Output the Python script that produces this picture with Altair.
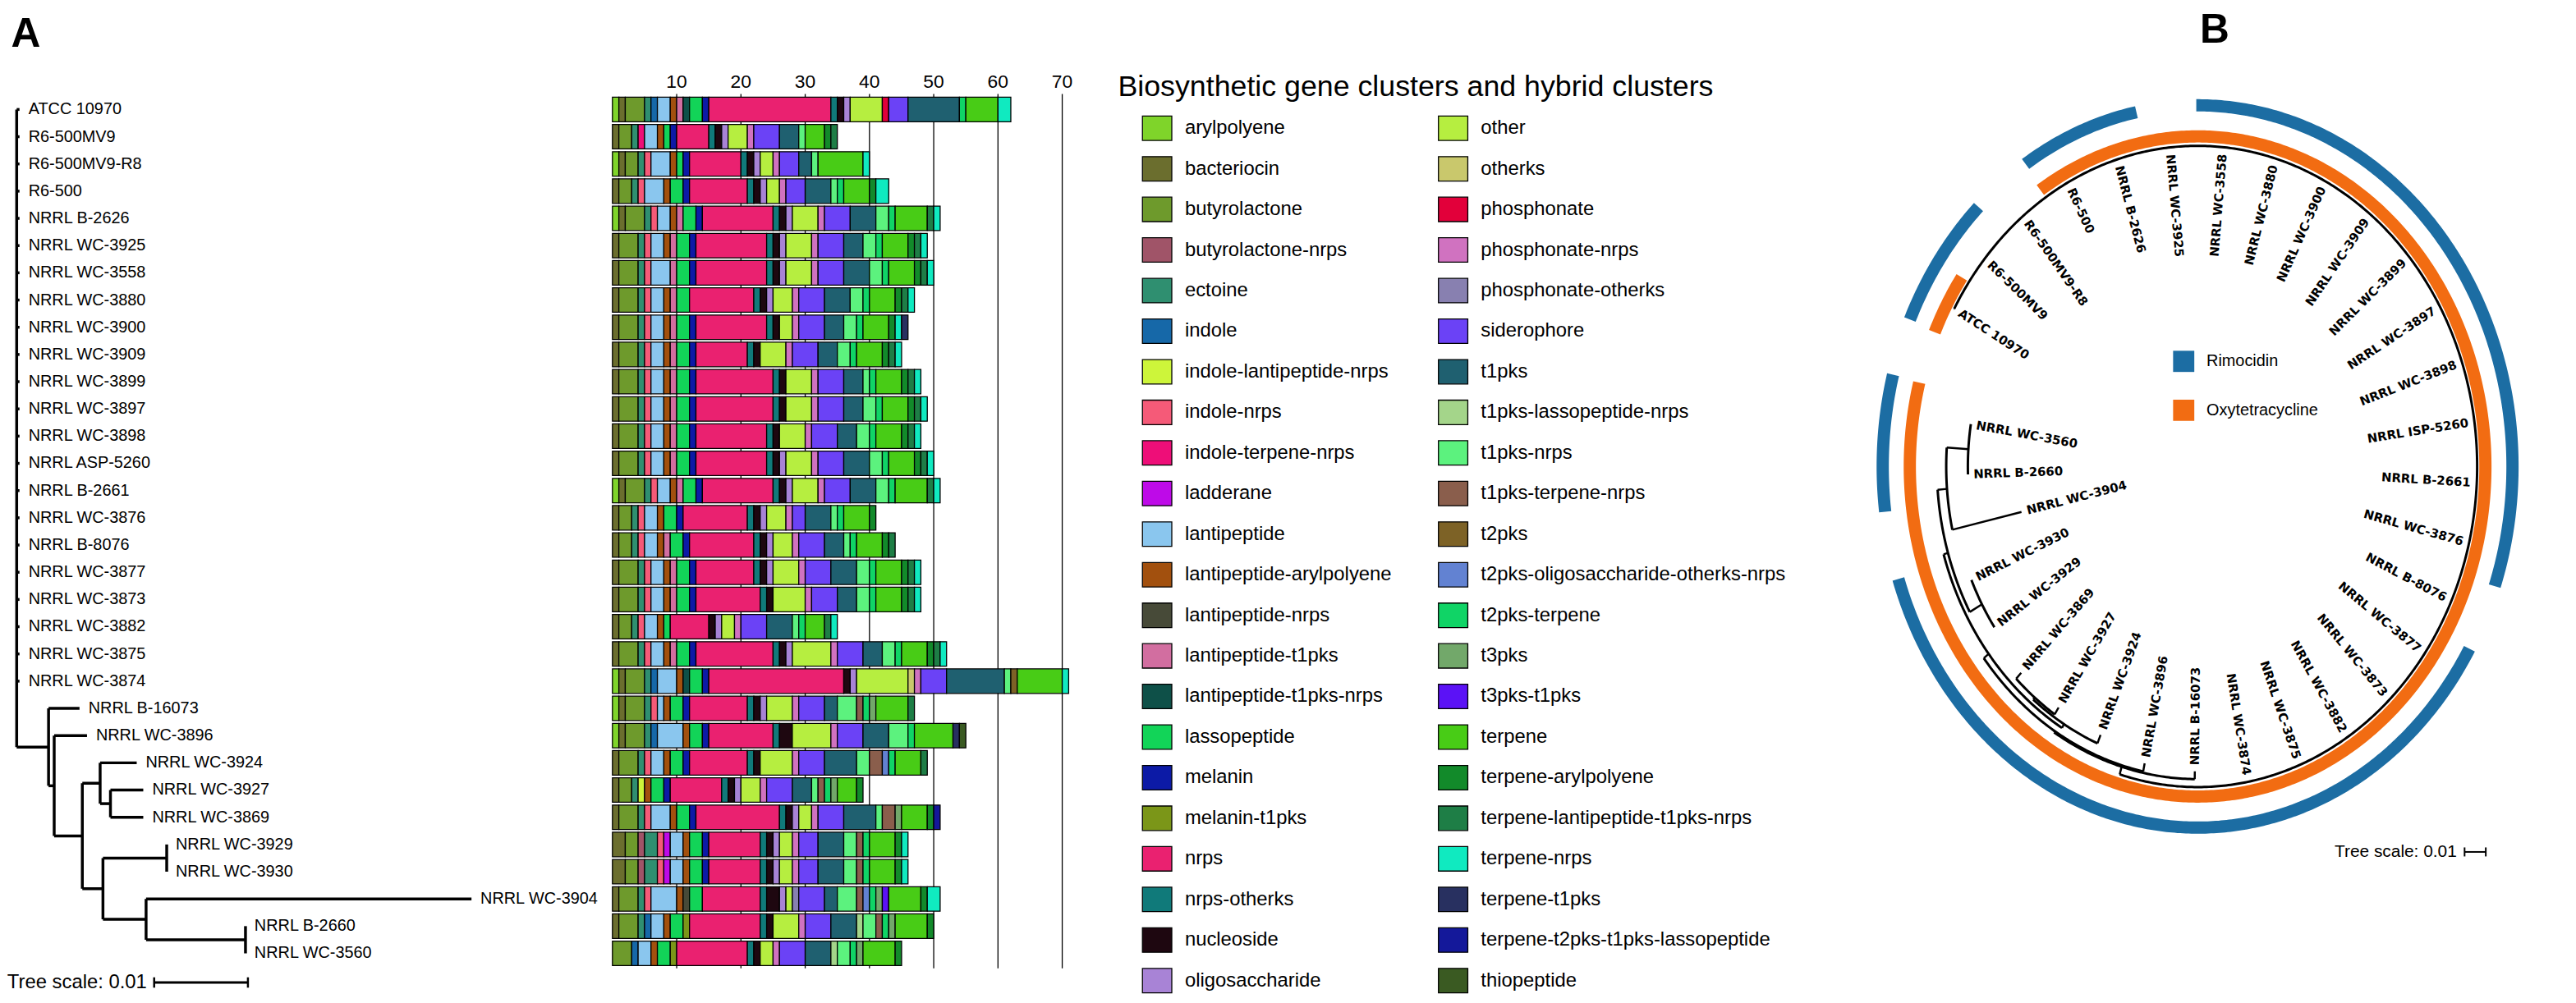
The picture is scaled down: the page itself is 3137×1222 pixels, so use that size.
import math
import numpy as np
import pandas as pd
import altair as alt

FONT = "Liberation Sans"

# ---------------- data ----------------
strains = ["ATCC 10970", "R6-500MV9", "R6-500MV9-R8", "R6-500", "NRRL B-2626",
           "NRRL WC-3925", "NRRL WC-3558", "NRRL WC-3880", "NRRL WC-3900", "NRRL WC-3909",
           "NRRL WC-3899", "NRRL WC-3897", "NRRL WC-3898", "NRRL ASP-5260", "NRRL B-2661",
           "NRRL WC-3876", "NRRL B-8076", "NRRL WC-3877", "NRRL WC-3873", "NRRL WC-3882",
           "NRRL WC-3875", "NRRL WC-3874", "NRRL B-16073", "NRRL WC-3896", "NRRL WC-3924",
           "NRRL WC-3927", "NRRL WC-3869", "NRRL WC-3929", "NRRL WC-3930", "NRRL WC-3904",
           "NRRL B-2660", "NRRL WC-3560"]
strains_b = [s if s != "NRRL ASP-5260" else "NRRL ISP-5260" for s in strains]

cats_left = ["arylpolyene", "bacteriocin", "butyrolactone", "butyrolactone-nrps", "ectoine", "indole",
             "indole-lantipeptide-nrps", "indole-nrps", "indole-terpene-nrps", "ladderane", "lantipeptide",
             "lantipeptide-arylpolyene", "lantipeptide-nrps", "lantipeptide-t1pks", "lantipeptide-t1pks-nrps",
             "lassopeptide", "melanin", "melanin-t1pks", "nrps", "nrps-otherks", "nucleoside", "oligosaccharide"]
cats_right = ["other", "otherks", "phosphonate", "phosphonate-nrps", "phosphonate-otherks", "siderophore",
              "t1pks", "t1pks-lassopeptide-nrps", "t1pks-nrps", "t1pks-terpene-nrps", "t2pks",
              "t2pks-oligosaccharide-otherks-nrps", "t2pks-terpene", "t3pks", "t3pks-t1pks", "terpene",
              "terpene-arylpolyene", "terpene-lantipeptide-t1pks-nrps", "terpene-nrps", "terpene-t1pks",
              "terpene-t2pks-t1pks-lassopeptide", "thiopeptide"]
colors_left = ["#7FD42A", "#6B6E2E", "#6E9A2C", "#A05468", "#2F8F70", "#1668A8", "#CDF53A", "#F55A78",
               "#EE0E78", "#BE0AE8", "#8AC6EE", "#A2500E", "#474A38", "#D26EA0", "#0E5048", "#12D458",
               "#0C1AA6", "#7B9618", "#EA2170", "#107A7A", "#1E0710", "#A883D6"]
colors_right = ["#B6EE40", "#C9C86C", "#E2003A", "#D072C0", "#8880B0", "#6B42F6", "#1F6070", "#A4D58A",
                "#5CF27E", "#8A5E4C", "#7D6226", "#6282D2", "#10D466", "#72A86A", "#5B12F6", "#48CC16",
                "#128A2A", "#1E7E46", "#10EAC0", "#283060", "#14189A", "#3A5A22"]
legend_title = "Biosynthetic gene clusters and hybrid clusters"

H13 = {"bacteriocin": 1, "butyrolactone": 3, "ectoine": 1, "indole-nrps": 1, "lantipeptide": 2,
       "lantipeptide-arylpolyene": 1, "lantipeptide-t1pks": 1, "lassopeptide": 2, "melanin": 1}

bgc_counts = [
    {"arylpolyene": 1, "bacteriocin": 1, "butyrolactone": 3, "ectoine": 1, "indole": 1, "lantipeptide": 2,
     "lantipeptide-arylpolyene": 1, "lantipeptide-t1pks": 1, "lantipeptide-t1pks-nrps": 1, "lassopeptide": 2,
     "melanin": 1, "nrps": 19, "nrps-otherks": 1, "nucleoside": 1, "oligosaccharide": 1, "other": 5,
     "phosphonate": 1, "siderophore": 3, "t1pks": 8, "t2pks-terpene": 1, "terpene": 5, "terpene-nrps": 2},
    {"bacteriocin": 1, "butyrolactone": 2, "ectoine": 1, "indole-terpene-nrps": 1, "lantipeptide": 2,
     "lantipeptide-arylpolyene": 1, "lassopeptide": 1, "melanin": 1, "nrps": 5, "nrps-otherks": 1, "nucleoside": 1,
     "oligosaccharide": 1, "other": 3, "phosphonate-nrps": 1, "siderophore": 4, "t1pks": 3, "t1pks-nrps": 1,
     "terpene": 3, "terpene-arylpolyene": 1, "terpene-lantipeptide-t1pks-nrps": 1},
    {"arylpolyene": 1, "bacteriocin": 1, "butyrolactone": 2, "ectoine": 1, "indole-nrps": 1, "lantipeptide": 3,
     "lantipeptide-arylpolyene": 1, "lassopeptide": 1, "melanin": 1, "nrps": 8, "nrps-otherks": 1, "nucleoside": 1,
     "oligosaccharide": 1, "other": 2, "phosphonate-nrps": 1, "siderophore": 3, "t1pks": 2, "t1pks-nrps": 1,
     "terpene": 7, "terpene-nrps": 1},
    {"bacteriocin": 1, "butyrolactone": 2, "ectoine": 1, "indole-nrps": 1, "lantipeptide": 3,
     "lantipeptide-arylpolyene": 1, "lassopeptide": 2, "melanin": 1, "nrps": 9, "nrps-otherks": 1, "nucleoside": 1,
     "oligosaccharide": 1, "other": 2, "phosphonate-nrps": 1, "siderophore": 3, "t1pks": 4, "t1pks-nrps": 1,
     "t2pks-terpene": 1, "terpene": 4, "terpene-arylpolyene": 1, "terpene-nrps": 2},
    {"arylpolyene": 1, **H13, "nrps": 11, "nrps-otherks": 1, "nucleoside": 1, "oligosaccharide": 1, "other": 4,
     "phosphonate-nrps": 1, "siderophore": 4, "t1pks": 4, "t1pks-nrps": 2, "t2pks-terpene": 1, "terpene": 5,
     "terpene-lantipeptide-t1pks-nrps": 1, "terpene-nrps": 1},
    {**H13, "nrps": 11, "nrps-otherks": 1, "nucleoside": 1, "oligosaccharide": 1, "other": 4, "phosphonate-nrps": 1,
     "siderophore": 4, "t1pks": 3, "t1pks-nrps": 2, "t2pks-terpene": 1, "terpene": 4, "terpene-arylpolyene": 1,
     "terpene-lantipeptide-t1pks-nrps": 1, "terpene-nrps": 1},
    {"bacteriocin": 1, "butyrolactone": 3, "ectoine": 1, "indole-nrps": 1, "lantipeptide": 3, "lantipeptide-t1pks": 1,
     "lassopeptide": 2, "melanin": 1, "nrps": 11, "nrps-otherks": 1, "nucleoside": 1, "oligosaccharide": 1,
     "other": 4, "phosphonate-nrps": 1, "siderophore": 4, "t1pks": 4, "t1pks-nrps": 2, "t2pks-terpene": 1,
     "terpene": 4, "terpene-arylpolyene": 1, "terpene-lantipeptide-t1pks-nrps": 1, "terpene-nrps": 1},
    {"bacteriocin": 1, "butyrolactone": 3, "ectoine": 1, "indole-nrps": 1, "lantipeptide": 2,
     "lantipeptide-arylpolyene": 1, "lantipeptide-t1pks": 1, "lassopeptide": 2, "nrps": 10, "nrps-otherks": 1,
     "nucleoside": 1, "oligosaccharide": 1, "other": 3, "phosphonate-nrps": 1, "siderophore": 4, "t1pks": 4,
     "t1pks-nrps": 2, "t2pks-terpene": 1, "terpene": 4, "terpene-arylpolyene": 1,
     "terpene-lantipeptide-t1pks-nrps": 1, "terpene-nrps": 1},
    {**H13, "nrps": 11, "nrps-otherks": 1, "nucleoside": 1, "other": 2, "phosphonate-nrps": 1, "siderophore": 4,
     "t1pks": 3, "t1pks-nrps": 2, "t2pks-terpene": 1, "terpene": 4, "terpene-arylpolyene": 1, "terpene-nrps": 1,
     "terpene-t1pks": 1},
    {**H13, "nrps": 8, "nrps-otherks": 1, "nucleoside": 1, "other": 4, "phosphonate-nrps": 1, "siderophore": 4,
     "t1pks": 3, "t1pks-nrps": 2, "t2pks-terpene": 1, "terpene": 4, "terpene-arylpolyene": 1,
     "terpene-lantipeptide-t1pks-nrps": 1, "terpene-nrps": 1},
    {**H13, "nrps": 12, "nrps-otherks": 1, "nucleoside": 1, "other": 4, "phosphonate-nrps": 1, "siderophore": 4,
     "t1pks": 3, "t1pks-nrps": 1, "t2pks-terpene": 1, "terpene": 4, "terpene-arylpolyene": 1,
     "terpene-lantipeptide-t1pks-nrps": 1, "terpene-nrps": 1},
    {**H13, "nrps": 12, "nrps-otherks": 1, "nucleoside": 1, "other": 4, "phosphonate-nrps": 1, "siderophore": 4,
     "t1pks": 3, "t1pks-nrps": 2, "t2pks-terpene": 1, "terpene": 4, "terpene-arylpolyene": 1,
     "terpene-lantipeptide-t1pks-nrps": 1, "terpene-nrps": 1},
    {**H13, "nrps": 11, "nrps-otherks": 1, "nucleoside": 1, "other": 4, "phosphonate-nrps": 1, "siderophore": 4,
     "t1pks": 3, "t1pks-nrps": 2, "t2pks-terpene": 1, "terpene": 4, "terpene-arylpolyene": 1,
     "terpene-lantipeptide-t1pks-nrps": 1, "terpene-nrps": 1},
    {**H13, "nrps": 11, "nrps-otherks": 1, "nucleoside": 1, "oligosaccharide": 1, "other": 4, "phosphonate-nrps": 1,
     "siderophore": 4, "t1pks": 4, "t1pks-nrps": 2, "t2pks-terpene": 1, "terpene": 4, "terpene-arylpolyene": 1,
     "terpene-lantipeptide-t1pks-nrps": 1, "terpene-nrps": 1},
    {"arylpolyene": 1, **H13, "nrps": 11, "nrps-otherks": 1, "nucleoside": 1, "oligosaccharide": 1, "other": 4,
     "phosphonate-nrps": 1, "siderophore": 4, "t1pks": 4, "t1pks-nrps": 2, "t2pks-terpene": 1, "terpene": 5,
     "terpene-lantipeptide-t1pks-nrps": 1, "terpene-nrps": 1},
    {"bacteriocin": 1, "butyrolactone": 2, "ectoine": 1, "indole-nrps": 1, "lantipeptide": 2,
     "lantipeptide-arylpolyene": 1, "lassopeptide": 2, "melanin": 1, "nrps": 10, "nrps-otherks": 1, "nucleoside": 1,
     "oligosaccharide": 1, "other": 3, "phosphonate-nrps": 1, "siderophore": 2, "t1pks": 4, "t1pks-nrps": 1,
     "t2pks-terpene": 1, "terpene": 4, "terpene-arylpolyene": 1},
    {"bacteriocin": 1, "butyrolactone": 2, "ectoine": 1, "indole-nrps": 1, "lantipeptide": 2,
     "lantipeptide-arylpolyene": 1, "lantipeptide-t1pks": 1, "lassopeptide": 2, "melanin": 1, "nrps": 10,
     "nrps-otherks": 1, "nucleoside": 1, "oligosaccharide": 1, "other": 3, "phosphonate-nrps": 1, "siderophore": 4,
     "t1pks": 3, "t1pks-nrps": 1, "t2pks-terpene": 1, "terpene": 4, "terpene-arylpolyene": 1,
     "terpene-lantipeptide-t1pks-nrps": 1},
    {**H13, "nrps": 9, "nrps-otherks": 1, "nucleoside": 1, "oligosaccharide": 1, "other": 4, "phosphonate-nrps": 1,
     "siderophore": 4, "t1pks": 4, "t1pks-nrps": 2, "t2pks-terpene": 1, "terpene": 4, "terpene-arylpolyene": 1,
     "terpene-lantipeptide-t1pks-nrps": 1, "terpene-nrps": 1},
    {**H13, "nrps": 10, "nrps-otherks": 1, "nucleoside": 1, "other": 5, "phosphonate-nrps": 1, "siderophore": 4,
     "t1pks": 3, "t1pks-nrps": 2, "t2pks-terpene": 1, "terpene": 4, "terpene-arylpolyene": 1,
     "terpene-lantipeptide-t1pks-nrps": 1, "terpene-nrps": 1},
    {"bacteriocin": 1, "butyrolactone": 2, "ectoine": 1, "indole-nrps": 1, "lantipeptide": 2,
     "lantipeptide-arylpolyene": 1, "lassopeptide": 1, "nrps": 6, "nucleoside": 1, "oligosaccharide": 1,
     "other": 2, "phosphonate-nrps": 1, "siderophore": 4, "t1pks": 4, "t1pks-nrps": 1, "t2pks-terpene": 1,
     "terpene": 3, "terpene-lantipeptide-t1pks-nrps": 1, "terpene-nrps": 1},
    {**H13, "nrps": 12, "nrps-otherks": 1, "nucleoside": 1, "oligosaccharide": 1, "other": 6, "phosphonate-nrps": 1,
     "siderophore": 4, "t1pks": 3, "t1pks-nrps": 2, "t2pks-terpene": 1, "terpene": 4, "terpene-arylpolyene": 1,
     "terpene-lantipeptide-t1pks-nrps": 1, "terpene-nrps": 1},
    {"arylpolyene": 1, "bacteriocin": 1, "butyrolactone": 3, "ectoine": 1, "indole": 1, "lantipeptide": 3,
     "lantipeptide-arylpolyene": 1, "lantipeptide-t1pks-nrps": 1, "lassopeptide": 2, "melanin": 1, "nrps": 21,
     "nucleoside": 1, "oligosaccharide": 1, "other": 8, "otherks": 1, "phosphonate-nrps": 1, "siderophore": 4,
     "t1pks": 9, "t1pks-nrps": 1, "t2pks": 1, "terpene": 7, "terpene-nrps": 1},
    {"arylpolyene": 1, "bacteriocin": 1, "butyrolactone": 3, "ectoine": 1, "indole-nrps": 1, "lantipeptide": 1,
     "lantipeptide-arylpolyene": 1, "lassopeptide": 2, "melanin": 1, "nrps": 9, "nrps-otherks": 1, "nucleoside": 1,
     "oligosaccharide": 1, "other": 4, "phosphonate-nrps": 1, "siderophore": 4, "t1pks": 2, "t1pks-nrps": 3,
     "t1pks-terpene-nrps": 1, "t2pks-terpene": 1, "t3pks": 1, "terpene": 5, "terpene-lantipeptide-t1pks-nrps": 1},
    {"arylpolyene": 1, "bacteriocin": 1, "butyrolactone": 3, "ectoine": 1, "indole": 1, "lantipeptide": 4,
     "lantipeptide-arylpolyene": 1, "lassopeptide": 2, "melanin": 1, "nrps": 10, "nrps-otherks": 1, "nucleoside": 2,
     "other": 6, "phosphonate-nrps": 1, "siderophore": 4, "t1pks": 4, "t1pks-nrps": 3, "t2pks-terpene": 1,
     "terpene": 6, "terpene-t1pks": 1, "thiopeptide": 1},
    {"bacteriocin": 1, "butyrolactone": 3, "ectoine": 1, "indole-nrps": 1, "lantipeptide": 2,
     "lantipeptide-arylpolyene": 1, "lassopeptide": 2, "melanin": 1, "nrps": 9, "nrps-otherks": 1, "nucleoside": 1,
     "other": 5, "phosphonate-nrps": 1, "siderophore": 4, "t1pks": 5, "t1pks-nrps": 2, "t1pks-terpene-nrps": 2,
     "t2pks-oligosaccharide-otherks-nrps": 1, "t2pks-terpene": 1, "terpene": 4, "terpene-lantipeptide-t1pks-nrps": 1},
    {"bacteriocin": 1, "butyrolactone": 2, "ectoine": 1, "indole-lantipeptide-nrps": 1, "lantipeptide-arylpolyene": 1,
     "lassopeptide": 2, "melanin": 1, "nrps": 8, "nrps-otherks": 1, "nucleoside": 1, "oligosaccharide": 1,
     "other": 3, "phosphonate-nrps": 1, "siderophore": 4, "t1pks": 3, "t1pks-nrps": 1, "t1pks-terpene-nrps": 1,
     "t2pks-terpene": 1, "t3pks": 1, "terpene": 3, "terpene-arylpolyene": 1},
    {"bacteriocin": 1, "butyrolactone": 3, "ectoine": 1, "indole-nrps": 1, "lantipeptide": 3,
     "lantipeptide-arylpolyene": 1, "lassopeptide": 2, "melanin": 1, "nrps": 13, "nrps-otherks": 1, "nucleoside": 1,
     "oligosaccharide": 1, "other": 2, "phosphonate-nrps": 1, "siderophore": 4, "t1pks": 5, "t1pks-nrps": 1,
     "t1pks-terpene-nrps": 2, "t3pks": 1, "terpene": 4, "terpene-arylpolyene": 1,
     "terpene-t2pks-t1pks-lassopeptide": 1},
    {"bacteriocin": 2, "butyrolactone": 2, "butyrolactone-nrps": 1, "ectoine": 2, "indole-nrps": 1, "ladderane": 1,
     "lantipeptide": 2, "lantipeptide-arylpolyene": 1, "lassopeptide": 2, "melanin": 1, "nrps": 8, "nrps-otherks": 1,
     "nucleoside": 1, "oligosaccharide": 1, "other": 2, "phosphonate-nrps": 1, "siderophore": 3, "t1pks": 4,
     "t1pks-nrps": 2, "t1pks-terpene-nrps": 1, "t2pks-terpene": 1, "terpene": 4, "terpene-arylpolyene": 1,
     "terpene-nrps": 1},
    {"bacteriocin": 2, "butyrolactone": 2, "butyrolactone-nrps": 1, "ectoine": 2, "indole-nrps": 1, "ladderane": 1,
     "lantipeptide": 2, "lantipeptide-arylpolyene": 1, "lassopeptide": 2, "melanin": 1, "nrps": 8, "nrps-otherks": 1,
     "nucleoside": 1, "oligosaccharide": 1, "other": 2, "phosphonate-nrps": 1, "siderophore": 3, "t1pks": 4,
     "t1pks-nrps": 2, "t1pks-terpene-nrps": 1, "t2pks-terpene": 1, "terpene": 4, "terpene-arylpolyene": 1,
     "terpene-nrps": 1},
    {"bacteriocin": 1, "butyrolactone": 3, "ectoine": 1, "indole-nrps": 1, "lantipeptide": 4,
     "lantipeptide-arylpolyene": 1, "lantipeptide-nrps": 1, "lassopeptide": 2, "nrps": 9, "nrps-otherks": 1,
     "nucleoside": 2, "oligosaccharide": 1, "other": 1, "phosphonate-otherks": 1, "siderophore": 4, "t1pks": 2,
     "t1pks-nrps": 3, "t1pks-terpene-nrps": 1, "t2pks-oligosaccharide-otherks-nrps": 1, "t2pks-terpene": 1,
     "t3pks": 1, "t3pks-t1pks": 1, "terpene": 5, "terpene-arylpolyene": 1, "terpene-nrps": 2},
    {"bacteriocin": 1, "butyrolactone": 3, "ectoine": 1, "indole": 1, "lantipeptide": 2,
     "lantipeptide-arylpolyene": 1, "lassopeptide": 2, "melanin-t1pks": 1, "nrps": 11, "nrps-otherks": 1,
     "nucleoside": 1, "other": 4, "phosphonate-nrps": 1, "siderophore": 4, "t1pks": 4, "t1pks-lassopeptide-nrps": 1,
     "t1pks-nrps": 2, "t1pks-terpene-nrps": 1, "t2pks-terpene": 1, "t3pks": 1, "terpene": 5,
     "terpene-arylpolyene": 1},
    {"butyrolactone": 3, "indole": 1, "lantipeptide": 2, "lantipeptide-arylpolyene": 1, "lassopeptide": 2,
     "melanin-t1pks": 1, "nrps": 11, "nrps-otherks": 1, "nucleoside": 1, "other": 2, "phosphonate-nrps": 1,
     "siderophore": 4, "t1pks": 4, "t1pks-lassopeptide-nrps": 1, "t1pks-nrps": 2, "t2pks-terpene": 1, "t3pks": 1,
     "terpene": 5, "terpene-arylpolyene": 1},
]

bar_ticks = [10, 20, 30, 40, 50, 60, 70]

# phylogeny: (node, parent, branch depth from root)
tree_nodes = ([("root", None, 0.0)] + [(s, "root", 0.0003) for s in strains[:22]] + [
    ("n1", "root", 0.0034), ("NRRL B-16073", "n1", 0.0067), ("n2", "n1", 0.0040),
    ("NRRL WC-3896", "n2", 0.0075), ("n3", "n2", 0.0070), ("n4", "n3", 0.0089),
    ("NRRL WC-3924", "n4", 0.0128), ("n5", "n4", 0.0100), ("NRRL WC-3927", "n5", 0.0135),
    ("NRRL WC-3869", "n5", 0.0135), ("n6", "n3", 0.0092), ("n7", "n6", 0.0160),
    ("NRRL WC-3929", "n7", 0.0160), ("NRRL WC-3930", "n7", 0.0160), ("n8", "n6", 0.0138),
    ("NRRL WC-3904", "n8", 0.0485), ("n9", "n8", 0.0244), ("NRRL B-2660", "n9", 0.0244),
    ("NRRL WC-3560", "n9", 0.0244)])

rimocidin = [1, 1, 0, 1, 1, 0, 1, 1, 1, 1, 1, 1, 1, 1, 1, 1, 0, 1, 1, 1, 1, 1, 1, 1, 1, 1, 1, 1, 1, 0, 1, 1]
oxytetracycline = [1, 0, 0, 1, 1, 1, 1, 1, 1, 1, 1, 1, 1, 1, 1, 1, 1, 1, 1, 1, 1, 1, 1, 1, 1, 1, 1, 1, 1, 1, 1, 1]
ring_names = ["Rimocidin", "Oxytetracycline"]
ring_colors = ["#1C6DA3", "#F26C12"]

# ---------------- derived tables ----------------
cat_order = cats_left + cats_right
cat_color = dict(zip(cat_order, colors_left + colors_right))
rows = []
for i, (s, counts) in enumerate(zip(strains, bgc_counts)):
    acc = 0
    for c in cat_order:
        n = counts.get(c, 0)
        if n:
            rows.append(dict(strain=s, category=c, fill=cat_color[c], x0=acc, x1=acc + n, n=n,
                             y0=i - 0.45, y1=i + 0.45))
            acc += n
bar_df = pd.DataFrame(rows)

children, depth = {}, {}
for n, p, d in tree_nodes:
    depth[n] = d
    if p:
        children.setdefault(p, []).append(n)
node_row = {}


def get_row(n):
    if n not in node_row:
        if n in children:
            rs = [get_row(c) for c in children[n]]
            node_row[n] = (min(rs) + max(rs)) / 2
        else:
            node_row[n] = strains.index(n)
    return node_row[n]


get_row("root")
segs = []
for n, p, d in tree_nodes:
    if p:
        segs.append(dict(d0=depth[p], d1=d, r0=node_row[n], r1=node_row[n], kind="h"))
    if n in children:
        rs = [node_row[c] for c in children[n]]
        segs.append(dict(d0=d, d1=d, r0=min(rs), r1=max(rs), kind="v"))
seg_df = pd.DataFrame(segs)
leaf_df = pd.DataFrame([dict(label=s, depth=depth[s], pos=i) for i, s in enumerate(strains)])

# ---------------- layout ----------------
TREE_W, BAR_W, LEG_W, B_W, H = 732, 600, 937, 852, 1206
row_scale = alt.Scale(domain=[-3.563, 32.545], reverse=True, nice=False, zero=False)
tree_x = alt.Scale(domain=[-0.000991, 0.06266], nice=False, zero=False)
bar_x = alt.Scale(domain=[-1.269, 74.87], nice=False, zero=False)


def X(f, sc):
    return alt.X(f, scale=sc, axis=None)


def Y(f, sc):
    return alt.Y(f, scale=sc, axis=None)


# ---------------- panel A: tree ----------------
treeA_lines = alt.Chart(seg_df).mark_rule(color="black", strokeWidth=3.5).encode(
    x=X("d0:Q", tree_x), x2="d1:Q", y=Y("r0:Q", row_scale), y2="r1:Q")
treeA_labels = alt.Chart(leaf_df).mark_text(align="left", baseline="middle", dx=11, fontSize=20,
                                            font=FONT, color="black").encode(
    x=X("depth:Q", tree_x), y=Y("pos:Q", row_scale), text="label:N")
scaleA = pd.DataFrame([dict(d0=0.01466, d1=0.02466, r=32.07, ra=31.88, rb=32.26, t="Tree scale: 0.01",
                            dt=0.01388)])
scaleA_bar = alt.Chart(scaleA).mark_rule(color="black", strokeWidth=3).encode(
    x=X("d0:Q", tree_x), x2="d1:Q", y=Y("r:Q", row_scale))
scaleA_t1 = alt.Chart(scaleA).mark_rule(color="black", strokeWidth=2.5).encode(
    x=X("d0:Q", tree_x), y=Y("ra:Q", row_scale), y2="rb:Q")
scaleA_t2 = alt.Chart(scaleA).mark_rule(color="black", strokeWidth=2.5).encode(
    x=X("d1:Q", tree_x), y=Y("ra:Q", row_scale), y2="rb:Q")
scaleA_text = alt.Chart(scaleA).mark_text(align="right", baseline="middle", fontSize=24, font=FONT,
                                          color="black").encode(
    x=X("dt:Q", tree_x), y=Y("r:Q", row_scale), text="t:N")
labelA = alt.Chart(pd.DataFrame([dict(d=-0.0006, r=-2.3, t="A")])).mark_text(
    align="left", baseline="alphabetic", fontSize=50, fontWeight="bold", font=FONT, color="black").encode(
    x=X("d:Q", tree_x), y=Y("r:Q", row_scale), text="t:N")
treeA = alt.layer(treeA_lines, treeA_labels, scaleA_bar, scaleA_t1, scaleA_t2, scaleA_text, labelA).properties(
    width=TREE_W, height=H)

# ---------------- panel A: stacked bars ----------------
grid_df = pd.DataFrame(dict(v=bar_ticks, ya=-0.57, yb=31.55, r=-1.0))
grid = alt.Chart(grid_df).mark_rule(color="black", strokeWidth=1.3).encode(
    x=X("v:Q", bar_x), y=Y("ya:Q", row_scale), y2="yb:Q")
tick_text = alt.Chart(grid_df).mark_text(baseline="middle", fontSize=23, font=FONT, color="black").encode(
    x=X("v:Q", bar_x), y=Y("r:Q", row_scale), text="v:Q")
bars = alt.Chart(bar_df).mark_rect(stroke="black", strokeWidth=1.3).encode(
    x=X("x0:Q", bar_x), x2="x1:Q", y=Y("y0:Q", row_scale), y2="y1:Q",
    fill=alt.Fill("fill:N", scale=None), tooltip=["strain:N", "category:N", "n:Q"])
barsA = alt.layer(grid, tick_text, bars).properties(width=BAR_W, height=H)

# ---------------- legend panel ----------------
leg_rows = []
for col, (cats, cols) in enumerate([(cats_left, colors_left), (cats_right, colors_right)]):
    for k, (c, fc) in enumerate(zip(cats, cols)):
        leg_rows.append(dict(label=c, fill=fc, col=col, k=k))
leg_df = pd.DataFrame(leg_rows)
leg_df["sx0"] = np.where(leg_df.col == 0, 60.0, 423.0)
leg_df["sx1"] = leg_df.sx0 + 36
leg_df["tx"] = leg_df.sx1 + 16
leg_df["cy"] = 142.0 + 49.8 * leg_df.k
leg_df["sy0"] = leg_df.cy - 15
leg_df["sy1"] = leg_df.cy + 15
lx = alt.Scale(domain=[0, LEG_W], nice=False, zero=False)
ly = alt.Scale(domain=[0, H], reverse=True, nice=False, zero=False)
leg_sw = alt.Chart(leg_df).mark_rect(stroke="black", strokeWidth=1.3).encode(
    x=X("sx0:Q", lx), x2="sx1:Q", y=Y("sy0:Q", ly), y2="sy1:Q", fill=alt.Fill("fill:N", scale=None))
leg_tx = alt.Chart(leg_df).mark_text(align="left", baseline="middle", fontSize=24, font=FONT,
                                     color="black").encode(
    x=X("tx:Q", lx), y=Y("cy:Q", ly), text="label:N")
leg_title = alt.Chart(pd.DataFrame([dict(x=30.0, y=92.0, t=legend_title)])).mark_text(
    align="left", baseline="middle", fontSize=36, font=FONT, color="black").encode(
    x=X("x:Q", lx), y=Y("y:Q", ly), text="t:N")
legendA = alt.layer(leg_sw, leg_tx, leg_title).properties(width=LEG_W, height=H)

# ---------------- panel B: circular tree ----------------
B_START, B_STEP = 294.0, 10.96
B_R0, B_K = 356.0, 2600.0
SX, SY = 0.963, 1.105          # pixels per radial unit, horizontally and vertically
CX_PIX, CY_PIX = 396.0, 557.0  # centre of the circle inside the B view


def th(rw):
    return B_START + B_STEP * (rw + 0.5)


def rad(d):
    return B_R0 - B_K * d


def pol(t, r):
    tr = math.radians(t)
    return r * math.sin(tr), r * math.cos(tr)


arc_pts, radials = [], []
for k, s in enumerate(segs):
    if s["kind"] == "h":
        t = th(s["r0"])
        xa, ya = pol(t, rad(s["d0"]))
        xb, yb = pol(t, rad(s["d1"]))
        radials.append(dict(xa=xa, ya=ya, xb=xb, yb=yb))
    else:
        ta, tb = th(s["r0"]), th(s["r1"])
        npts = max(2, int(abs(tb - ta) / 0.5) + 1)
        for j, t in enumerate(np.linspace(ta, tb, npts)):
            x, y = pol(t, rad(s["d0"]))
            arc_pts.append(dict(seg=k, j=j, x=x, y=y))
arc_df = pd.DataFrame(arc_pts)
rad_df = pd.DataFrame(radials)

bx = alt.Scale(domain=[-CX_PIX / SX, (B_W - CX_PIX) / SX], nice=False, zero=False)
by = alt.Scale(domain=[-(H - CY_PIX) / SY, CY_PIX / SY], nice=False, zero=False)

b_arcs = alt.Chart(arc_df).mark_line(color="black", strokeWidth=3).encode(
    x=X("x:Q", bx), y=Y("y:Q", by), detail="seg:N", order="j:Q")
b_rad = alt.Chart(rad_df).mark_rule(color="black", strokeWidth=2.5).encode(
    x=X("xa:Q", bx), y=Y("ya:Q", by), x2="xb:Q", y2="yb:Q")

lab_rows = []
for i, s in enumerate(strains_b):
    t = th(i) % 360
    x, y = pol(t, rad(depth[strains[i]]) - 7)
    tr = math.radians(t)
    ang_in = math.degrees(math.atan2(math.cos(tr) * SY, -math.sin(tr) * SX))
    flip = 0 < t < 180
    lab_rows.append(dict(label=s, x=x, y=y, ang=((ang_in - 180) if flip else ang_in) % 360,
                         side="r" if flip else "l"))
lab_df = pd.DataFrame(lab_rows)
b_lab_l = alt.Chart(lab_df[lab_df.side == "l"].reset_index(drop=True)).mark_text(
    align="left", baseline="middle", fontSize=15, font="DejaVu Sans", fontWeight="bold", color="black").encode(
    x=X("x:Q", bx), y=Y("y:Q", by), text="label:N", angle=alt.Angle("ang:Q", scale=None))
b_lab_r = alt.Chart(lab_df[lab_df.side == "r"].reset_index(drop=True)).mark_text(
    align="right", baseline="middle", fontSize=15, font="DejaVu Sans", fontWeight="bold", color="black").encode(
    x=X("x:Q", bx), y=Y("y:Q", by), text="label:N", angle=alt.Angle("ang:Q", scale=None))

ring_radius = {"Rimocidin": 401, "Oxytetracycline": 366.5}
ring_pts = []
run_id = 0
for name, col, pres in zip(ring_names, ring_colors, [rimocidin, oxytetracycline]):
    i = 0
    while i < len(pres):
        if pres[i]:
            j = i
            while j + 1 < len(pres) and pres[j + 1]:
                j += 1
            ta, tb = B_START + B_STEP * i, B_START + B_STEP * (j + 1)
            npts = int((tb - ta) / 0.5) + 2
            for k, t in enumerate(np.linspace(ta, tb, npts)):
                x, y = pol(t, ring_radius[name])
                ring_pts.append(dict(cluster=name, stroke=col, run=run_id, k=k, x=x, y=y))
            run_id += 1
            i = j + 1
        else:
            i += 1
ring_df = pd.DataFrame(ring_pts)
b_rings = alt.Chart(ring_df).mark_line(strokeWidth=15).encode(
    x=X("x:Q", bx), y=Y("y:Q", by), detail="run:N", order="k:Q", stroke=alt.Stroke("stroke:N", scale=None))

ring_key = pd.DataFrame(dict(label=ring_names, fill=ring_colors, xc=[-17.7, -17.7], yc=[116.7, 62.4]))
ring_key["x0"] = ring_key.xc - 13 / SX
ring_key["x1"] = ring_key.xc + 13 / SX
ring_key["y0"] = ring_key.yc - 13 / SY
ring_key["y1"] = ring_key.yc + 13 / SY
ring_key["tx"] = ring_key.x1 + 15 / SX
key_sq = alt.Chart(ring_key).mark_rect().encode(
    x=X("x0:Q", bx), x2="x1:Q", y=Y("y0:Q", by), y2="y1:Q", fill=alt.Fill("fill:N", scale=None))
key_tx = alt.Chart(ring_key).mark_text(align="left", baseline="middle", fontSize=20, font=FONT,
                                       color="black").encode(
    x=X("tx:Q", bx), y=Y("yc:Q", by), text="label:N")

scaleB = pd.DataFrame([dict(xa=340.0, xb=340 + B_K * 0.01 / SX, y=-428.0, ya=-423.0, yb=-433.0, xt=330.0,
                            t="Tree scale: 0.01")])
scaleB_text = alt.Chart(scaleB).mark_text(align="right", baseline="middle", fontSize=21, font=FONT,
                                          color="black").encode(
    x=X("xt:Q", bx), y=Y("y:Q", by), text="t:N")
scaleB_bar = alt.Chart(scaleB).mark_rule(color="black", strokeWidth=2).encode(
    x=X("xa:Q", bx), x2="xb:Q", y=Y("y:Q", by))
scaleB_t1 = alt.Chart(scaleB).mark_rule(color="black", strokeWidth=2).encode(
    x=X("xa:Q", bx), y=Y("ya:Q", by), y2="yb:Q")
scaleB_t2 = alt.Chart(scaleB).mark_rule(color="black", strokeWidth=2).encode(
    x=X("xb:Q", bx), y=Y("ya:Q", by), y2="yb:Q")
labelB = alt.Chart(pd.DataFrame([dict(x=21.8, y=484.0, t="B")])).mark_text(
    align="center", baseline="middle", fontSize=50, fontWeight="bold", font=FONT, color="black").encode(
    x=X("x:Q", bx), y=Y("y:Q", by), text="t:N")

panelB = alt.layer(b_rings, b_arcs, b_rad, b_lab_l, b_lab_r, key_sq, key_tx, scaleB_bar, scaleB_t1,
                   scaleB_t2, scaleB_text, labelB).properties(width=B_W, height=H)

chart = alt.hconcat(treeA, barsA, legendA, panelB, spacing=0).properties(
    padding=0, background="white").configure_view(stroke=None)

chart.save("out.html", embed_options={"renderer": "svg", "actions": False})
